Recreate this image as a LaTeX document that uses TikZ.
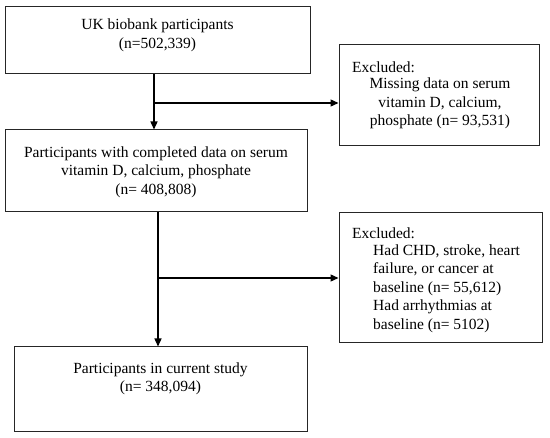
\documentclass[tikz,border=0pt]{standalone}
\usepackage{fontspec}
\setmainfont{Liberation Serif}
\usetikzlibrary{arrows.meta}
\begin{document}
\begin{tikzpicture}[x=1pt,y=-1pt,
  box/.style={draw=black!85,line width=1pt,minimum width=#1,inner sep=0pt},
  txt/.style={font=\fontsize{15.5}{18.5}\selectfont,inner sep=0pt},
  conn/.style={line width=1.3pt},
  arr/.style={conn,-{Triangle[length=8pt,width=7pt]}}]
\useasboundingbox (0,0) rectangle (550,438);
\node[box=305pt,minimum height=67pt] (b1) at (157.5,40.5) {};
\node[box=302pt,minimum height=82pt] (b2) at (156,171) {};
\node[box=293pt,minimum height=85pt] (b3) at (160.5,389.5) {};
\node[box=200pt,minimum height=101pt] (e1) at (439,95.5) {};
\node[box=203pt,minimum height=130pt] (e2) at (440.5,278) {};
\node[txt,align=center] (t1) at (157.5,35.5) {UK biobank participants\\(n=502,339)};
\node[txt,align=center] (t2) at (156,172) {Participants with completed data on serum\\vitamin D, calcium, phosphate\\(n= 408,808)};
\node[txt,align=center] (t3) at (160.5,379) {Participants in current study\\(n= 348,094)};
\node[txt,anchor=west] (e1h) at (352,67) {Excluded:};
\node[txt,align=center] (e1b) at (440,103.5) {Missing data on serum\\vitamin D, calcium,\\phosphate (n= 93,531)};
\node[txt,anchor=west] (e2h) at (352,233) {Excluded:};
\node[txt,align=left,anchor=west] (e2b) at (373,288.5) {Had CHD, stroke, heart\\failure, or cancer at\\baseline (n= 55,612)\\Had arrhythmias at\\baseline (n= 5102)};
\coordinate (j1) at (154,103);
\coordinate (j2) at (158,278);
\draw[arr] (b1.south -| j1) -- (b2.north -| j1);
\draw[arr] (j1) -- (e1.west |- j1);
\draw[arr] (b2.south -| j2) -- (b3.north -| j2);
\draw[arr] (j2) -- (e2.west |- j2);
\end{tikzpicture}
\end{document}
